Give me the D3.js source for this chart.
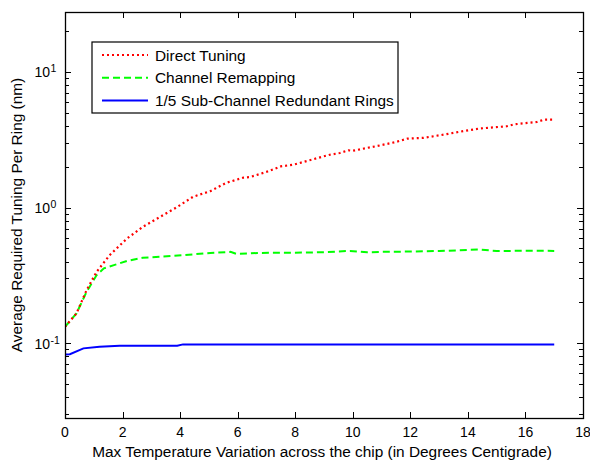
<!DOCTYPE html>
<html>
<head>
<meta charset="utf-8">
<script src="https://cdn.jsdelivr.net/npm/d3@7"></script>
<style>
  body { margin: 0; background: #fff; }
  text { font-family: "Liberation Sans", Arial, sans-serif; fill: #000; }
</style>
</head>
<body>
<script>
// dati
const tempDirect = [0, 0.4, 0.75, 1.1, 1.55, 2.15, 2.7, 3.3, 3.9, 4.45, 5.05, 5.6, 6.2, 6.45, 7, 7.5, 7.95, 8.5, 9.2, 9.55, 9.85, 10, 10.5, 10.85, 11.5, 11.9, 12.45, 13.25, 13.85, 14.4, 15.35, 15.6, 16.4, 16.65, 16.95];
const valDirect = [0.132, 0.166, 0.246, 0.336, 0.445, 0.59, 0.72, 0.853, 1.01, 1.2, 1.32, 1.52, 1.66, 1.68, 1.83, 2.01, 2.07, 2.23, 2.45, 2.52, 2.64, 2.62, 2.75, 2.84, 3.04, 3.22, 3.26, 3.47, 3.66, 3.82, 3.97, 4.1, 4.27, 4.45, 4.45];

const tempRemap = [0, 0.4, 0.75, 1.1, 1.35, 1.7, 2.15, 2.7, 3.3, 4.1, 5.05, 5.75, 5.95, 6.8, 8, 9, 9.9, 10.5, 11, 12, 13, 14.4, 15, 16, 17];
const valRemap = [0.132, 0.166, 0.239, 0.318, 0.356, 0.376, 0.404, 0.426, 0.433, 0.445, 0.463, 0.471, 0.455, 0.463, 0.465, 0.468, 0.479, 0.468, 0.471, 0.474, 0.478, 0.49, 0.478, 0.48, 0.479];

const tempSub = [0, 0.17, 0.64, 1.2, 1.9, 3.9, 4.1, 17];
const valSub = [0.0826, 0.083, 0.0916, 0.094, 0.0957, 0.0957, 0.098, 0.098];

const xTicks = [0, 2, 4, 6, 8, 10, 12, 14, 16, 18];
const yMajor = [0.1, 1, 10];
const yExp = ["-1", "0", "1"];
const seriesNames = ["Direct Tuning", "Channel Remapping", "1/5 Sub-Channel Redundant Rings"];

const area = { sinistra: 65, destra: 583, alto: 12, basso: 418 };

const svg = d3.select("body").append("svg")
  .attr("width", 590)
  .attr("height", 460);

const scalaX = d3.scaleLinear().domain([0, 18]).range([area.sinistra, area.destra]);
const scalaY = d3.scaleLog().domain([0.0281, 27.6]).range([area.basso, area.alto]);

svg.append("clipPath").attr("id", "clip")
  .append("rect")
  .attr("x", area.sinistra).attr("y", area.alto)
  .attr("width", area.destra - area.sinistra).attr("height", area.basso - area.alto);

// minor ticks on log axis
let minori = [];
[0.01, 0.1, 1, 10].forEach(function (dec) {
  for (let k = 2; k <= 9; k++) {
    let v = dec * k;
    if (v > 0.0281 && v < 27.6) minori.push(v);
  }
});

const assi = svg.append("g").attr("stroke", "#000").attr("stroke-width", 1);

// y ticks, left and right, inside
yMajor.concat(minori).forEach(function (v) {
  let lung = yMajor.indexOf(v) >= 0 ? 6 : 4;
  let y = Math.round(scalaY(v)) + 0.5;
  assi.append("line").attr("x1", area.sinistra).attr("x2", area.sinistra + lung).attr("y1", y).attr("y2", y);
  assi.append("line").attr("x1", area.destra).attr("x2", area.destra - lung).attr("y1", y).attr("y2", y);
});

// x ticks, bottom and top
xTicks.forEach(function (v) {
  let x = Math.round(scalaX(v)) + 0.5;
  assi.append("line").attr("x1", x).attr("x2", x).attr("y1", area.basso).attr("y2", area.basso - 6);
  assi.append("line").attr("x1", x).attr("x2", x).attr("y1", area.alto).attr("y2", area.alto + 6);
});

// x tick labels
svg.append("g").selectAll("text")
  .data(xTicks)
  .enter().append("text")
  .attr("x", function (d) { return scalaX(d); })
  .attr("y", 437)
  .attr("text-anchor", "middle")
  .attr("font-size", 14)
  .text(function (d) { return d; });

// y tick labels 10^n
yMajor.forEach(function (v, i) {
  svg.append("text")
    .attr("x", 50)
    .attr("y", scalaY(v) + 5.5)
    .attr("text-anchor", "end")
    .attr("font-size", 14)
    .text("10");
  svg.append("text")
    .attr("x", 50.5)
    .attr("y", scalaY(v) + 0.5)
    .attr("font-size", 10.5)
    .text(yExp[i]);
});

// lines
const linea = d3.line()
  .x(function (d) { return scalaX(d[0]); })
  .y(function (d) { return scalaY(d[1]); });

const serie = [
  { dati: d3.zip(tempDirect, valDirect), colore: "#ff0000", dash: "2,3", w: 2.2 },
  { dati: d3.zip(tempRemap, valRemap), colore: "#00ff00", dash: "7,4", w: 2 },
  { dati: d3.zip(tempSub, valSub), colore: "#0000ff", dash: null, w: 2 }
];

const gLinee = svg.append("g").attr("clip-path", "url(#clip)");
serie.slice().reverse().forEach(function (s) {
  gLinee.append("path")
    .datum(s.dati)
    .attr("fill", "none")
    .attr("stroke", s.colore)
    .attr("stroke-width", s.w)
    .attr("stroke-dasharray", s.dash)
    .attr("d", linea);
});

// frame
svg.append("rect")
  .attr("x", area.sinistra + 0.5).attr("y", area.alto + 0.5)
  .attr("width", area.destra - area.sinistra).attr("height", area.basso - area.alto)
  .attr("fill", "none").attr("stroke", "#000").attr("stroke-width", 1.3);

// legend
const legenda = svg.append("g");
legenda.append("rect")
  .attr("x", 92).attr("y", 42)
  .attr("width", 306).attr("height", 71)
  .attr("fill", "#fff").attr("stroke", "#000").attr("stroke-width", 1.2);

serie.forEach(function (s, i) {
  let y = 55 + i * 22.8;
  legenda.append("line")
    .attr("x1", 102).attr("x2", 148).attr("y1", y).attr("y2", y)
    .attr("stroke", s.colore).attr("stroke-width", s.w)
    .attr("stroke-dasharray", s.dash);
  legenda.append("text")
    .attr("x", 155).attr("y", y + 5.5)
    .attr("font-size", 15.4)
    .text(seriesNames[i]);
});

// axis labels
svg.append("text")
  .attr("x", 322)
  .attr("y", 457)
  .attr("text-anchor", "middle")
  .attr("font-size", 15.4)
  .text("Max Temperature Variation across the chip (in Degrees Centigrade)");

svg.append("text")
  .attr("transform", "translate(22," + ((area.alto + area.basso) / 2) + ") rotate(-90)")
  .attr("text-anchor", "middle")
  .attr("font-size", 15.4)
  .text("Average Required Tuning Per Ring (nm)");
</script>
</body>
</html>
